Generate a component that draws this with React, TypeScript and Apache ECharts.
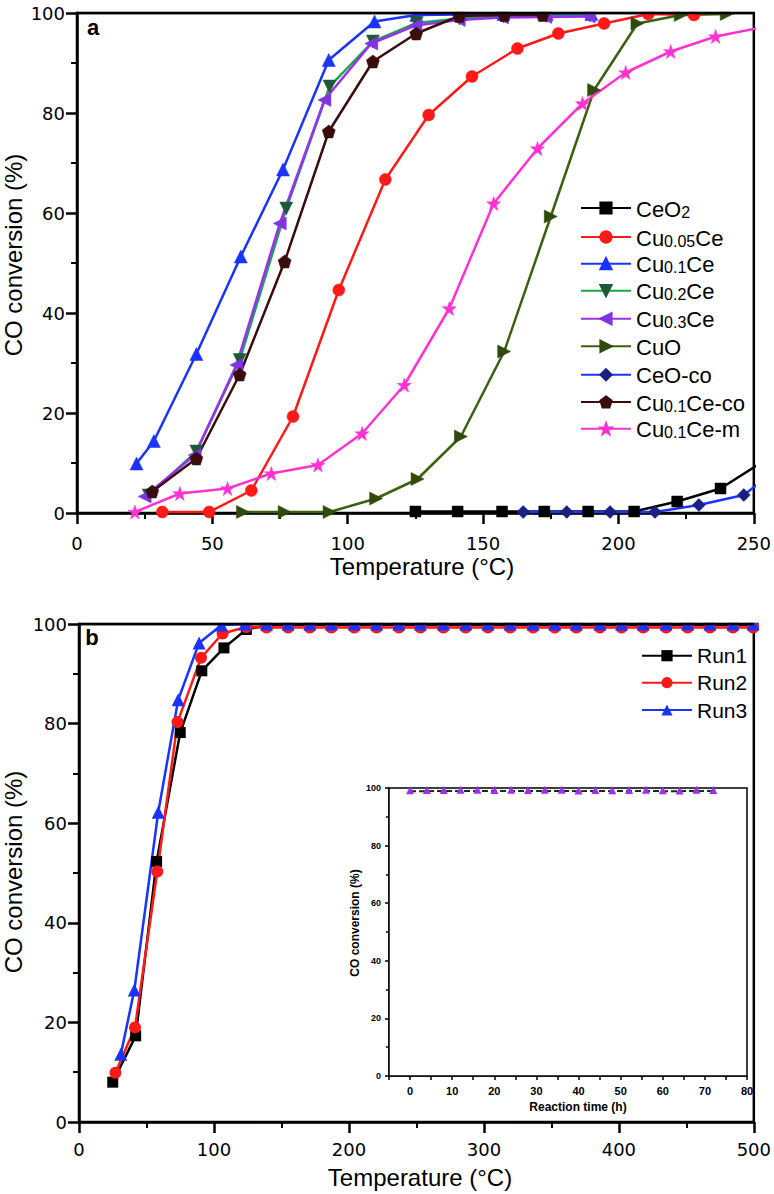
import React, { useEffect, useRef } from 'react';
import * as echarts from 'echarts';

// ---------- Panel a data: [temperature °C, CO conversion %] ----------
const CEO2 = [[125, 0.3], [140.6, 0.3], [157, 0.3], [172.6, 0.3], [188.8, 0.3], [205.8, 0.3], [221.7, 2.3], [237.7, 4.9], [253.7, 10.4]];
const CU005CE = [[31.5, 0.2], [48.8, 0.2], [64.4, 4.5], [79.8, 19.3], [96.7, 44.6], [113.9, 66.7], [129.9, 79.6], [145.9, 87.3], [162.7, 92.9], [177.8, 95.9], [194.7, 97.9], [211, 99.8], [227.9, 99.6]];
const CU01CE = [[22, 9.9], [28.4, 14.4], [44.1, 31.8], [60.5, 51.3], [76.1, 68.7], [93, 90.6], [109.9, 98.3], [125.3, 99.6], [141.5, 99.7], [157.5, 99.8], [173.5, 99.8], [190, 99.8]];
const CU02CE = [[26.5, 3.5], [44.1, 12.3], [60.1, 30.6], [77.3, 60.9], [93.3, 85.3], [109.3, 94.3], [125.5, 98], [141.2, 98.9], [157.5, 99.3], [173.5, 99.4], [189.5, 99.5]];
const CU03CE = [[25, 3.3], [43.5, 11.6], [58.9, 29.6], [74.9, 57.9], [91.4, 82.6], [108.7, 93.9], [125, 97.5], [141, 98.6], [157, 99.1], [173, 99.2], [189, 99.3]];
const CUO = [[61.3, 0.2], [76.7, 0.2], [93.3, 0.2], [110.5, 2.9], [125.8, 6.8], [141.8, 15.3], [157.8, 32.3], [175, 59.3], [191, 84.6], [207, 97.9], [223, 99.6], [240, 99.8]];
const CEO_CO = [[164.8, 0.2], [180.9, 0.2], [196.9, 0.2], [213.5, 0.2], [229.7, 1.6], [246.3, 3.6], [262.7, 10.5]];
const CU01CE_CO = [[27.8, 4.3], [44.1, 10.9], [60.1, 27.7], [76.7, 50.3], [93, 76.3], [109.3, 90.3], [125.3, 95.9], [141.2, 99.4], [157.8, 99.6], [172, 99.6]];
const CU01CE_M = [[21.4, 0.2], [38, 3.9], [55.6, 4.9], [71.8, 7.9], [89, 9.6], [105.3, 15.9], [120.9, 25.6], [137.5, 40.9], [153.9, 61.9], [170.1, 72.9], [186.7, 81.9], [202.7, 88.1], [219.3, 92.3], [235.9, 95.3], [252.5, 97.1]];

// ---------- Panel b data ----------
const RUN1_T = [25, 42, 57.5, 75, 91, 107.4, 124, 139, 155, 171, 187, 204, 220.5, 237, 253, 270, 286.5, 303, 319.5, 336.5, 352.5, 368.5, 386, 402, 418, 435, 451, 467.5, 484.5, 499.5];
const RUN1_C = [8, 17.3, 52.3, 78.2, 90.6, 95.2, 98.9, 99.7, 99.8, 99.8, 99.8, 99.8, 99.8, 99.8, 99.8, 99.8, 99.8, 99.8, 99.8, 99.8, 99.8, 99.8, 99.8, 99.8, 99.8, 99.8, 99.8, 99.8, 99.8, 99.8];
const RUN2_T = [27, 41.5, 58, 73, 90.4, 106.4, 124, 139, 155, 171, 187, 204, 220.5, 237, 253, 270, 286.5, 303, 319.5, 336.5, 352.5, 368.5, 386, 402, 418, 435, 451, 467.5, 484.5, 499.5];
const RUN2_C = [9.9, 19, 50.3, 80.3, 93.2, 98.1, 99.4, 99.3, 99.3, 99.3, 99.3, 99.3, 99.3, 99.3, 99.3, 99.3, 99.3, 99.3, 99.3, 99.3, 99.3, 99.3, 99.3, 99.3, 99.3, 99.3, 99.3, 99.3, 99.3, 99.3];
const RUN3_T = [31, 41, 58.7, 73.5, 89, 105.6, 123, 139, 155, 171, 187, 204, 220.5, 237, 253, 270, 286.5, 303, 319.5, 336.5, 352.5, 368.5, 386, 402, 418, 435, 451, 467.5, 484.5, 499.5];
const RUN3_C = [13.6, 26.5, 62.2, 84.8, 96.2, 99.8, 100, 100, 100, 100, 100, 100, 100, 100, 100, 100, 100, 100, 100, 100, 100, 100, 100, 100, 100, 100, 100, 100, 100, 100];

// ---------- Inset data ----------
const INSET_TIME = [0, 4, 8, 12, 16, 20, 24, 28, 32, 36, 40, 44, 48, 52, 56, 60, 64, 68, 72];
const INSET_CONV = [99.2, 99.3, 99.3, 99.4, 99.4, 99.3, 99.4, 99.3, 99.4, 99.4, 99.1, 99.3, 99.2, 99.3, 99.4, 99.2, 99.1, 99.4, 99.3];
const INSET_REF = [98.9, 98.9, 99.0, 99.0, 99.0, 99.0, 99.0, 99.0, 99.0, 99.0, 98.9, 99.0, 98.9, 99.0, 99.0, 98.9, 98.9, 99.0, 99.0];

// ---------- Axis ticks ----------
const A_X = { min: 0, max: 250, interval: 50 };
const B_X = { min: 0, max: 500, interval: 100 };
const Y_RANGE = { min: 0, max: 100, interval: 20 };
const INSET_X = { min: -5, max: 80, interval: 5 };

const FONT = "'Liberation Sans', Arial, Helvetica, sans-serif";
const NUMFONT = "'DejaVu Sans', 'Liberation Sans', Arial, sans-serif";

const PENTAGON = 'path://M0,-10L9.51,-3.09L5.88,8.09L-5.88,8.09L-9.51,-3.09Z';
const STAR = 'path://M0,-10L2.35,-3.24L9.51,-3.09L3.8,1.24L5.88,8.09L0,4L-5.88,8.09L-3.8,1.24L-9.51,-3.09L-2.35,-3.24Z';

const SERIES_A = [
  { name: 'CeO2', data: CEO2, color: '#000000', mcolor: '#000000', symbol: 'rect', rot: 0, size: 11, rich: '{n|CeO}{s|2}' },
  { name: 'Cu0.05Ce', data: CU005CE, color: '#ff1a1a', mcolor: '#ff1a1a', symbol: 'circle', rot: 0, size: 12, rich: '{n|Cu}{s|0.05}{n|Ce}' },
  { name: 'Cu0.1Ce', data: CU01CE, color: '#1a33ff', mcolor: '#1a33ff', symbol: 'triangle', rot: 0, size: 13, rich: '{n|Cu}{s|0.1}{n|Ce}' },
  { name: 'Cu0.2Ce', data: CU02CE, color: '#14a84a', mcolor: '#1c5a38', symbol: 'triangle', rot: 180, size: 13, rich: '{n|Cu}{s|0.2}{n|Ce}' },
  { name: 'Cu0.3Ce', data: CU03CE, color: '#9b30f0', mcolor: '#8034e0', symbol: 'triangle', rot: 90, size: 13, rich: '{n|Cu}{s|0.3}{n|Ce}' },
  { name: 'CuO', data: CUO, color: '#3d6010', mcolor: '#2f4a0a', symbol: 'triangle', rot: -90, size: 13, rich: '{n|CuO}' },
  { name: 'CeO-co', data: CEO_CO, color: '#1a33ff', mcolor: '#1a2080', symbol: 'diamond', rot: 0, size: 13, rich: '{n|CeO-co}' },
  { name: 'Cu0.1Ce-co', data: CU01CE_CO, color: '#3a0c0c', mcolor: '#3a0c0c', symbol: PENTAGON, rot: 0, size: 13, rich: '{n|Cu}{s|0.1}{n|Ce-co}' },
  { name: 'Cu0.1Ce-m', data: CU01CE_M, color: '#ff33d0', mcolor: '#ff33d0', symbol: STAR, rot: 0, size: 14, rich: '{n|Cu}{s|0.1}{n|Ce-m}' },
];

const SERIES_B = [
  { name: 'Run1', t: RUN1_T, c: RUN1_C, color: '#000000', symbol: 'rect', size: 11 },
  { name: 'Run2', t: RUN2_T, c: RUN2_C, color: '#ff1a1a', symbol: 'circle', size: 12 },
  { name: 'Run3', t: RUN3_T, c: RUN3_C, color: '#1a33ff', symbol: 'triangle', size: 13 },
];

const LEGEND_A_ROWS = [210, 239, 265.7, 292.7, 320.7, 348.3, 376.7, 404, 430.7];
const LEGEND_B_ROWS = [655.7, 682.7, 710];

function mainAxis(gridIndex: number, range: any, labelMargin: number, isX: boolean) {
  return {
    type: 'value',
    gridIndex,
    min: range.min,
    max: range.max,
    interval: range.interval,
    axisLine: { show: true, onZero: false, lineStyle: { color: '#000', width: 2.5 } },
    axisTick: { show: true, inside: false, length: 11, lineStyle: { color: '#000', width: 2.5 } },
    minorTick: { show: true, splitNumber: 2, length: 6, lineStyle: { color: '#000', width: 2 } },
    splitLine: { show: false },
    minorSplitLine: { show: false },
    axisLabel: { show: true, margin: labelMargin, color: '#000', fontSize: 18, fontFamily: NUMFONT },
  };
}

function buildOption() {
  const seriesA = SERIES_A.map((s) => ({
    type: 'line',
    name: s.name,
    xAxisIndex: 0,
    yAxisIndex: 0,
    data: s.data,
    symbol: s.symbol,
    symbolSize: s.size,
    symbolRotate: s.rot,
    showAllSymbol: true,
    clip: true,
    lineStyle: { color: s.color, width: 2.5 },
    itemStyle: { color: s.mcolor, borderColor: s.mcolor, borderWidth: 0.5 },
    emphasis: { disabled: true },
  }));
  const seriesB = SERIES_B.map((s) => ({
    type: 'line',
    name: s.name,
    xAxisIndex: 1,
    yAxisIndex: 1,
    data: s.t.map((t, i) => [t, s.c[i]]),
    symbol: s.symbol,
    symbolSize: s.size,
    showAllSymbol: true,
    clip: true,
    lineStyle: { color: s.color, width: 2.5 },
    itemStyle: { color: s.color },
    emphasis: { disabled: true },
  }));
  const inset = [
    {
      type: 'line', name: 'inset-ref', xAxisIndex: 2, yAxisIndex: 2,
      data: INSET_TIME.map((t, i) => [t, INSET_REF[i]]),
      symbol: 'none', lineStyle: { color: '#1a2a1a', width: 2, type: [6, 3] },
      emphasis: { disabled: true },
    },
    {
      type: 'line', name: 'inset', xAxisIndex: 2, yAxisIndex: 2,
      data: INSET_TIME.map((t, i) => [t, INSET_CONV[i]]),
      symbol: 'triangle', symbolSize: 8, showAllSymbol: true,
      lineStyle: { width: 0, opacity: 0 }, itemStyle: { color: '#9b30f0' },
      emphasis: { disabled: true },
    },
  ];

  const legendsA = SERIES_A.map((s, i) => ({
    show: true,
    data: [s.name],
    left: 580,
    top: LEGEND_A_ROWS[i] - 12,
    padding: 0,
    itemWidth: 50,
    itemHeight: 14,
    itemGap: 0,
    selectedMode: false,
    formatter: () => s.rich,
    textStyle: {
      color: '#000',
      fontFamily: FONT,
      fontSize: 22,
      rich: {
        n: { fontSize: 22, fontFamily: FONT, color: '#000', lineHeight: 24, verticalAlign: 'bottom' },
        s: { fontSize: 16, fontFamily: FONT, color: '#000', lineHeight: 24, verticalAlign: 'bottom', padding: [0, 0, 0, 0] },
      },
    },
  }));
  const legendsB = SERIES_B.map((s, i) => ({
    show: true,
    data: [s.name],
    left: 641,
    top: LEGEND_B_ROWS[i] - 12,
    padding: 0,
    itemWidth: 50,
    itemHeight: 14,
    itemGap: 0,
    selectedMode: false,
    textStyle: { color: '#000', fontFamily: FONT, fontSize: 21, lineHeight: 24 },
  }));

  const title = (text: string, x: number, y: number, rotate: boolean, size: number, bold = false) => ({
    type: 'text',
    x,
    y,
    rotation: rotate ? Math.PI / 2 : 0,
    z: 200,
    style: {
      text,
      fill: '#000',
      font: `${bold ? 'bold ' : ''}${size}px ${FONT}`,
      textAlign: 'center',
      textVerticalAlign: 'middle',
    },
  });

  return {
    animation: false,
    backgroundColor: '#fff',
    grid: [
      { left: 77, top: 13, width: 678, height: 500, show: true, borderColor: '#000', borderWidth: 2.5, backgroundColor: 'transparent' },
      { left: 79, top: 624, width: 675, height: 498, show: true, borderColor: '#000', borderWidth: 2.5, backgroundColor: 'transparent' },
      { left: 389, top: 788, width: 358, height: 288, show: true, borderColor: '#000', borderWidth: 1.5, backgroundColor: '#fff', z: 3 },
    ],
    xAxis: [
      mainAxis(0, A_X, 21, true),
      mainAxis(1, B_X, 18, true),
      {
        type: 'value', gridIndex: 2, min: INSET_X.min, max: INSET_X.max, interval: INSET_X.interval,
        axisLine: { show: true, onZero: false, lineStyle: { color: '#000', width: 1.5 } },
        axisTick: { show: true, length: 4, lineStyle: { color: '#000', width: 1.5 } },
        splitLine: { show: false },
        axisLabel: {
          margin: 9, color: '#000', fontSize: 11, fontWeight: 'bold', fontFamily: FONT,
          formatter: (v: number) => (v % 10 === 0 && v >= 0 ? String(v) : ''),
        },
      },
    ],
    yAxis: [
      mainAxis(0, Y_RANGE, 12, false),
      mainAxis(1, Y_RANGE, 12, false),
      {
        type: 'value', gridIndex: 2, min: Y_RANGE.min, max: Y_RANGE.max, interval: Y_RANGE.interval,
        axisLine: { show: true, onZero: false, lineStyle: { color: '#000', width: 1.5 } },
        axisTick: { show: true, length: 4, lineStyle: { color: '#000', width: 1.5 } },
        minorTick: { show: true, splitNumber: 2, length: 3, lineStyle: { color: '#000', width: 1.5 } },
        splitLine: { show: false },
        axisLabel: { margin: 8, color: '#000', fontSize: 9, fontWeight: 'bold', fontFamily: FONT },
      },
    ],
    legend: [...legendsA, ...legendsB],
    series: [...seriesA, ...seriesB, ...inset],
    graphic: [
      // mask symbols poking above the top frame lines, then redraw frames
      { type: 'rect', z: 100, shape: { x: 78.5, y: 0, width: 680, height: 11.75 }, style: { fill: '#fff' } },
      { type: 'line', z: 101, shape: { x1: 77, y1: 13, x2: 755, y2: 13 }, style: { stroke: '#000', lineWidth: 2.5 } },
      { type: 'rect', z: 100, shape: { x: 80.5, y: 600, width: 680, height: 22.75 }, style: { fill: '#fff' } },
      { type: 'line', z: 101, shape: { x1: 79, y1: 624, x2: 754, y2: 624 }, style: { stroke: '#000', lineWidth: 2.5 } },
      title('CO conversion (%)', 13, 255, true, 24),
      title('Temperature (°C)', 422, 566, false, 24),
      title('CO conversion (%)', 13, 872, true, 24),
      title('Temperature (°C)', 420, 1177, false, 24),
      title('a', 93, 27, false, 22, true),
      title('b', 92, 637, false, 22, true),
      title('CO conversion (%)', 355, 923, true, 12, true),
      title('Reaction time (h)', 578, 1107, false, 12, true),
    ],
  };
}

export default function App() {
  const ref = useRef<HTMLDivElement>(null);
  useEffect(() => {
    const chart = echarts.init(ref.current as HTMLDivElement, null, { renderer: 'svg' });
    chart.setOption(buildOption() as any);
    return () => chart.dispose();
  }, []);
  return (
    <div
      ref={ref}
      style={{ position: 'absolute', left: 0, top: 0, width: 774, height: 1194, background: '#fff' }}
    />
  );
}
